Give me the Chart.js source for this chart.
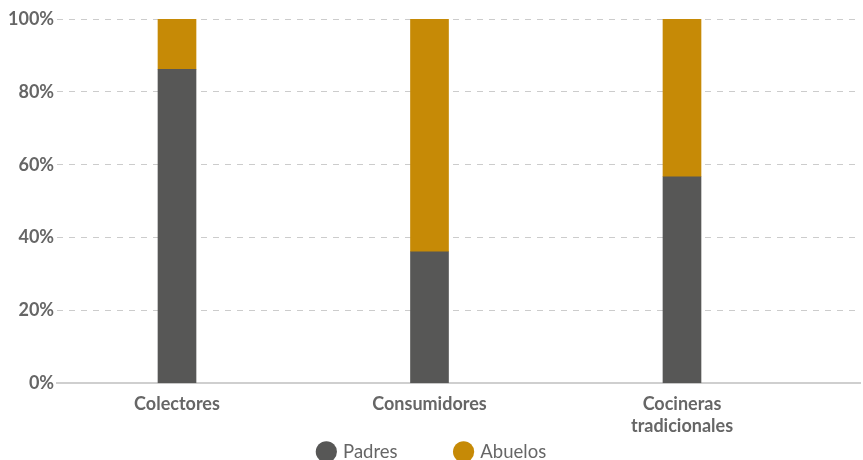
<!DOCTYPE html>
<html>
<head>
<meta charset="utf-8">
<script src="https://cdn.jsdelivr.net/npm/chart.js@4"></script>
<style>
  html, body { margin: 0; padding: 0; overflow: hidden; background: #fff; }
  #wrap { width: 863px; height: 471px; position: relative; }
</style>
</head>
<body>
<div id="wrap"><canvas id="chart"></canvas></div>
<script>
// data (percent)
const categories = ['Colectores', 'Consumidores', ['Cocineras', 'tradicionales']];
const padres = [86.2, 36.1, 56.7];
const abuelos = [13.8, 63.9, 43.3];
const yTicks = [0, 20, 40, 60, 80, 100];

const grey = '#666666';

const ctx = document.getElementById('chart').getContext('2d');
new Chart(ctx, {
    type: 'bar',
    data: {
        datasets: [{
            label: 'Padres',
            data: padres.map((v, i) => ({ x: i, y: v })),
            backgroundColor: '#575756',
            barThickness: 38
        }, {
            label: 'Abuelos',
            data: abuelos.map((v, i) => ({ x: i, y: v })),
            backgroundColor: '#c68a06',
            barThickness: 38
        }]
    },
    options: {
        responsive: true,
        maintainAspectRatio: false,
        animation: false,
        layout: { padding: { left: 5, right: 3, top: 19 } },
        scales: {
            x: {
                type: 'linear',
                stacked: true,
                offset: false,
                min: -0.475,
                max: 2.705,
                afterBuildTicks: scale => {
                    scale.ticks = categories.map((c, i) => ({ value: i }));
                },
                // let the two-line labels sit close to the legend
                afterFit: scale => { scale.height -= 7; },
                grid: { display: false, drawTicks: false },
                border: { display: true, color: '#cfcfcf', width: 2 },
                ticks: {
                    color: grey,
                    padding: 10,
                    maxRotation: 0,
                    autoSkip: false,
                    font: { family: 'Lato', size: 18, weight: 'bold' },
                    callback: v => categories[v]
                }
            },
            y: {
                stacked: true,
                min: 0,
                max: 100,
                afterBuildTicks: scale => {
                    scale.ticks = yTicks.map(v => ({ value: v }));
                },
                grid: { color: '#cccccc', drawTicks: false, tickLength: 0 },
                border: { display: false, dash: [6, 6] },
                ticks: {
                    color: grey,
                    padding: 3,
                    font: { family: 'Lato', size: 18, weight: 'bold' },
                    callback: v => v + '%'
                }
            }
        },
        plugins: {
            legend: {
                position: 'bottom',
                labels: {
                    usePointStyle: true,
                    pointStyle: 'circle',
                    boxWidth: 15,
                    boxHeight: 15,
                    padding: 3,
                    color: grey,
                    font: { family: 'Lato', size: 18.5 },
                    // wider gap between the two legend entries
                    generateLabels: chart => {
                        const items = Chart.defaults.plugins.legend.labels.generateLabels(chart);
                        items[0].text = items[0].text + '\u2003\u2003\u2003\u2003';
                        return items;
                    }
                }
            },
            tooltip: { enabled: false }
        }
    }
});
</script>
</body>
</html>
